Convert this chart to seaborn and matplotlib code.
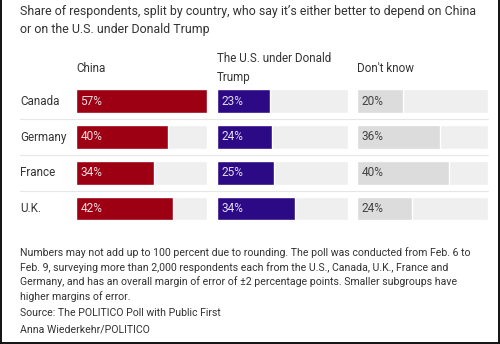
import matplotlib
matplotlib.use("Agg")
import matplotlib.pyplot as plt
import seaborn as sns
import pandas as pd
from matplotlib.lines import Line2D

countries = ["Canada", "Germany", "France", "U.K."]
china = [57, 40, 34, 42]
us_trump = [23, 24, 25, 34]
dont_know = [20, 36, 40, 24]
headers = ["China", "The U.S. under Donald\nTrump", "Don't know"]

title = ("Share of respondents, split by country, who say it\u2019s either better to depend on China\n"
         "or on the U.S. under Donald Trump")
note = ("Numbers may not add up to 100 percent due to rounding. The poll was conducted from Feb. 6 to\n"
        "Feb. 9, surveying more than 2,000 respondents each from the U.S., Canada, U.K., France and\n"
        "Germany, and has an overall margin of error of \u00b12 percentage points. Smaller subgroups have\n"
        "higher margins of error.")
source = "Source: The POLITICO Poll with Public First"
credit = "Anna Wiederkehr/POLITICO"

sns.set_theme(style="white")
plt.rcParams["font.family"] = ["Roboto", "DejaVu Sans"]

W, H = 500, 344
fig = plt.figure(figsize=(W / 100, H / 100), dpi=100)
fig.patch.set_facecolor("white")

def fx(px):
    return px / W

def fy(py):
    return 1 - py / H

series = [china, us_trump, dont_know]
colors = ["#9c0012", "#2c0a85", "#dcdcdc"]
label_colors = ["#f4dde0", "#e2dcf2", "#444444"]
lefts = [76, 217, 357]
width_px = 131
track = max(max(s) for s in series)

top_px, bot_px = 83.2, 226.4
for i, (vals, col, lc, lx) in enumerate(zip(series, colors, label_colors, lefts)):
    ax = fig.add_axes([fx(lx), fy(bot_px), fx(width_px), (bot_px - top_px) / H])
    df = pd.DataFrame({"country": countries, "value": vals, "track": [track] * len(vals)})
    sns.barplot(data=df, x="track", y="country", color="#efefef", saturation=1,
                width=0.67, ax=ax, orient="h")
    sns.barplot(data=df, x="value", y="country", color=col, saturation=1,
                width=0.67, ax=ax, orient="h")
    ax.set_xlim(0, track)
    ax.set_xlabel("")
    ax.set_ylabel("")
    ax.set_xticks([])
    ax.set_yticks([])
    for s in ax.spines.values():
        s.set_visible(False)
    ax.patch.set_alpha(0)
    for j, v in enumerate(vals):
        ax.text(track * 4.5 / width_px, j, f"{v}%", color=lc, fontsize=8.6,
                va="center", ha="left")
    fig.text(fx(lx), fy(68), headers[i], fontsize=8.4, color="#333333",
             va="center", ha="left", linespacing=1.65)

row_centers = [101, 137, 173, 208.5]
for c, yc in zip(countries, row_centers):
    fig.text(fx(20), fy(yc), c, fontsize=8.4, color="#333333", va="center", ha="left")

for yl in [118.5, 154.5, 190.5]:
    fig.add_artist(Line2D([fx(20), fx(488)], [fy(yl), fy(yl)], color="#e6e6e6", lw=0.8))

fig.text(fx(20), fy(20.5), title, fontsize=8.9, color="#333333", va="center", ha="left",
         linespacing=1.4)
fig.text(fx(20), fy(274.5), note, fontsize=7.6, color="#333333", va="center", ha="left",
         linespacing=1.42)
fig.text(fx(20), fy(313.3), source, fontsize=7.6, color="#333333", va="center", ha="left")
fig.text(fx(20), fy(329.3), credit, fontsize=7.6, color="#333333", va="center", ha="left")

# frame (left, right, bottom)
fig.add_artist(Line2D([0.002, 0.002], [0, 1], color="#111111", lw=1.4))
fig.add_artist(Line2D([0.998, 0.998], [0, 1], color="#111111", lw=1.4))
fig.add_artist(Line2D([0, 1], [0.003, 0.003], color="#111111", lw=1.4))

fig.savefig("out.png", dpi=100, facecolor="white")
